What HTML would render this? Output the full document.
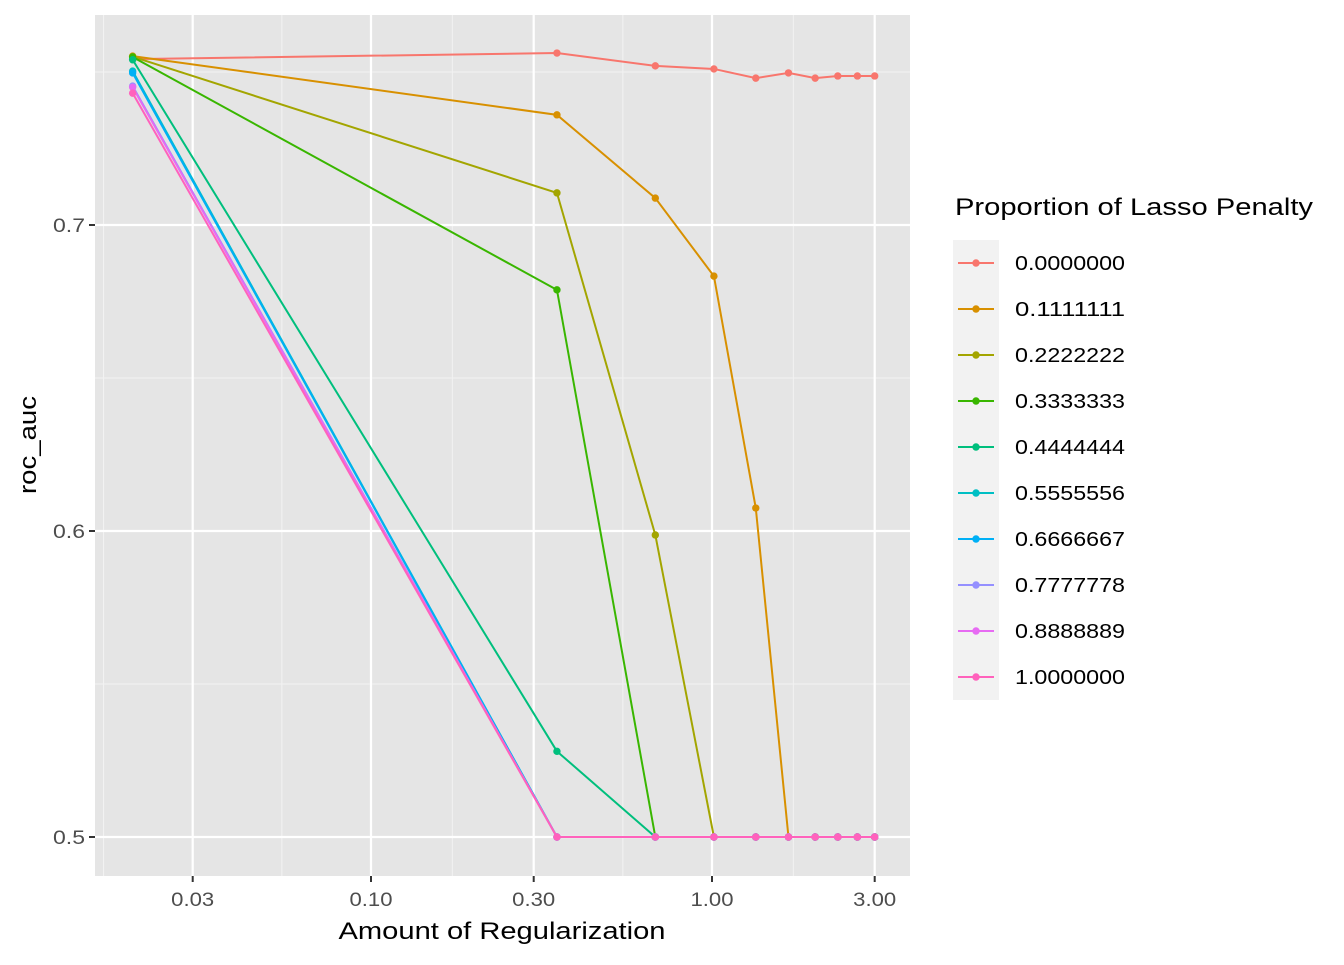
<!DOCTYPE html>
<html><head><meta charset="utf-8"><style>
body{margin:0;background:#fff;}
svg text{font-family:"Liberation Sans",Arial,sans-serif;}
</style></head><body>
<svg id="chart" width="1344" height="960" xmlns="http://www.w3.org/2000/svg"></svg>
<script>
const penalties=[0.02,0.351,0.682,1.013,1.344,1.676,2.007,2.338,2.669,3.0];
const mixtureLabels=["0.0000000","0.1111111","0.2222222","0.3333333","0.4444444","0.5555556","0.6666667","0.7777778","0.8888889","1.0000000"];
const colors=["#F8766D","#D89000","#A3A500","#39B600","#00BF7D","#00BFC4","#00B0F6","#9590FF","#E76BF3","#FF62BC"];
const s0=[0.7542,0.7562,0.752,0.751,0.748,0.7497,0.748,0.7487,0.7487,0.7487];
const s1=[0.7552,0.736,0.7088,0.6833,0.6075,0.5,0.5,0.5,0.5,0.5];
const s2=[0.755,0.7105,0.5987,0.5,0.5,0.5,0.5,0.5,0.5,0.5];
const s3=[0.7549,0.6788,0.5,0.5,0.5,0.5,0.5,0.5,0.5,0.5];
const s4=[0.754,0.528,0.5,0.5,0.5,0.5,0.5,0.5,0.5,0.5];
const s5=[0.7503,0.5,0.5,0.5,0.5,0.5,0.5,0.5,0.5,0.5];
const s6=[0.7497,0.5,0.5,0.5,0.5,0.5,0.5,0.5,0.5,0.5];
const s7=[0.7454,0.5,0.5,0.5,0.5,0.5,0.5,0.5,0.5,0.5];
const s8=[0.745,0.5,0.5,0.5,0.5,0.5,0.5,0.5,0.5,0.5];
const s9=[0.7431,0.5,0.5,0.5,0.5,0.5,0.5,0.5,0.5,0.5];
const series=[s0,s1,s2,s3,s4,s5,s6,s7,s8,s9];
const xTicks=[0.03,0.1,0.3,1,3];
const xTickLabels=["0.03","0.10","0.30","1.00","3.00"];
const yTicks=[0.5,0.6,0.7];
const yTickLabels=["0.5","0.6","0.7"];

const NS="http://www.w3.org/2000/svg";
const svg=document.getElementById('chart');
const L=95,T=15,R=910,B=876;
const xs=v=>712+341*Math.log10(v);
const ys=v=>837-(v-0.5)*3060;
function mk(tag,attrs,parent){const e=document.createElementNS(NS,tag);for(const k in attrs)e.setAttribute(k,attrs[k]);(parent||svg).appendChild(e);return e;}

const panel=mk('rect',{x:L,y:T,width:R-L,height:B-T,fill:'#E5E5E5'});


const lx=xTicks.map(xs);
const minorX=[lx[0]-(lx[1]-lx[0])/2];
for(let i=0;i<lx.length-1;i++)minorX.push((lx[i]+lx[i+1])/2);
minorX.forEach(x=>{if(x>L){const g=mk('line',{x1:x,x2:x,y1:T,y2:B,stroke:'#F2F2F2','stroke-width':1});}});
[0.55,0.65,0.75].forEach(v=>{const g=mk('line',{x1:L,x2:R,y1:ys(v),y2:ys(v),stroke:'#F2F2F2','stroke-width':1});});
xTicks.forEach((v,i)=>{const x=xs(v);
 const g=mk('line',{x1:x,x2:x,y1:T,y2:B,stroke:'#fff','stroke-width':2.2});
 const t=mk('line',{x1:x,x2:x,y1:B,y2:B+6,stroke:'#333','stroke-width':2});
 const tx=mk('text',{x:x,y:B+30,'text-anchor':'middle','font-size':19,fill:'#4D4D4D',textLength:43,lengthAdjust:'spacingAndGlyphs'});tx.textContent=xTickLabels[i];});
yTicks.forEach((v,i)=>{const y=ys(v);
 const g=mk('line',{x1:L,x2:R,y1:y,y2:y,stroke:'#fff','stroke-width':2.2});
 const t=mk('line',{x1:L-6,x2:L,y1:y,y2:y,stroke:'#333','stroke-width':2});
 const tx=mk('text',{x:L-10,y:y+7,'text-anchor':'end','font-size':19,fill:'#4D4D4D',textLength:32,lengthAdjust:'spacingAndGlyphs'});tx.textContent=yTickLabels[i];});
series.forEach((s,k)=>{
 const pts=s.map((v,i)=>xs(penalties[i])+','+ys(v)).join(' ');
 const pl=mk('polyline',{points:pts,fill:'none',stroke:colors[k],'stroke-width':2});
 
 s.forEach((v,i)=>{const c=mk('circle',{cx:xs(penalties[i]),cy:ys(v),r:3.7,fill:colors[k]});});
});
const xt=mk('text',{x:502,y:939,'text-anchor':'middle','font-size':24,fill:'#000',textLength:327,lengthAdjust:'spacingAndGlyphs'});xt.textContent='Amount of Regularization';

const yt=mk('text',{x:36,y:445,'text-anchor':'middle','font-size':24,fill:'#000',textLength:98,lengthAdjust:'spacingAndGlyphs',transform:'rotate(-90 36 445)'});yt.textContent='roc_auc';

const lt=mk('text',{x:955,y:215,'font-size':24,fill:'#000',textLength:358,lengthAdjust:'spacingAndGlyphs'});lt.textContent='Proportion of Lasso Penalty';

mixtureLabels.forEach((lab,k)=>{const y=263+46*k;
 const bg=mk('rect',{x:953,y:y-23,width:46,height:46,fill:'#F2F2F2'});
 const ln=mk('line',{x1:958,x2:994,y1:y,y2:y,stroke:colors[k],'stroke-width':2});
 const c=mk('circle',{cx:976,cy:y,r:3.7,fill:colors[k]});
 const t=mk('text',{x:1015,y:y+7,'font-size':20,fill:'#000',textLength:110,lengthAdjust:'spacingAndGlyphs'});t.textContent=lab;});
</script>
</body></html>
